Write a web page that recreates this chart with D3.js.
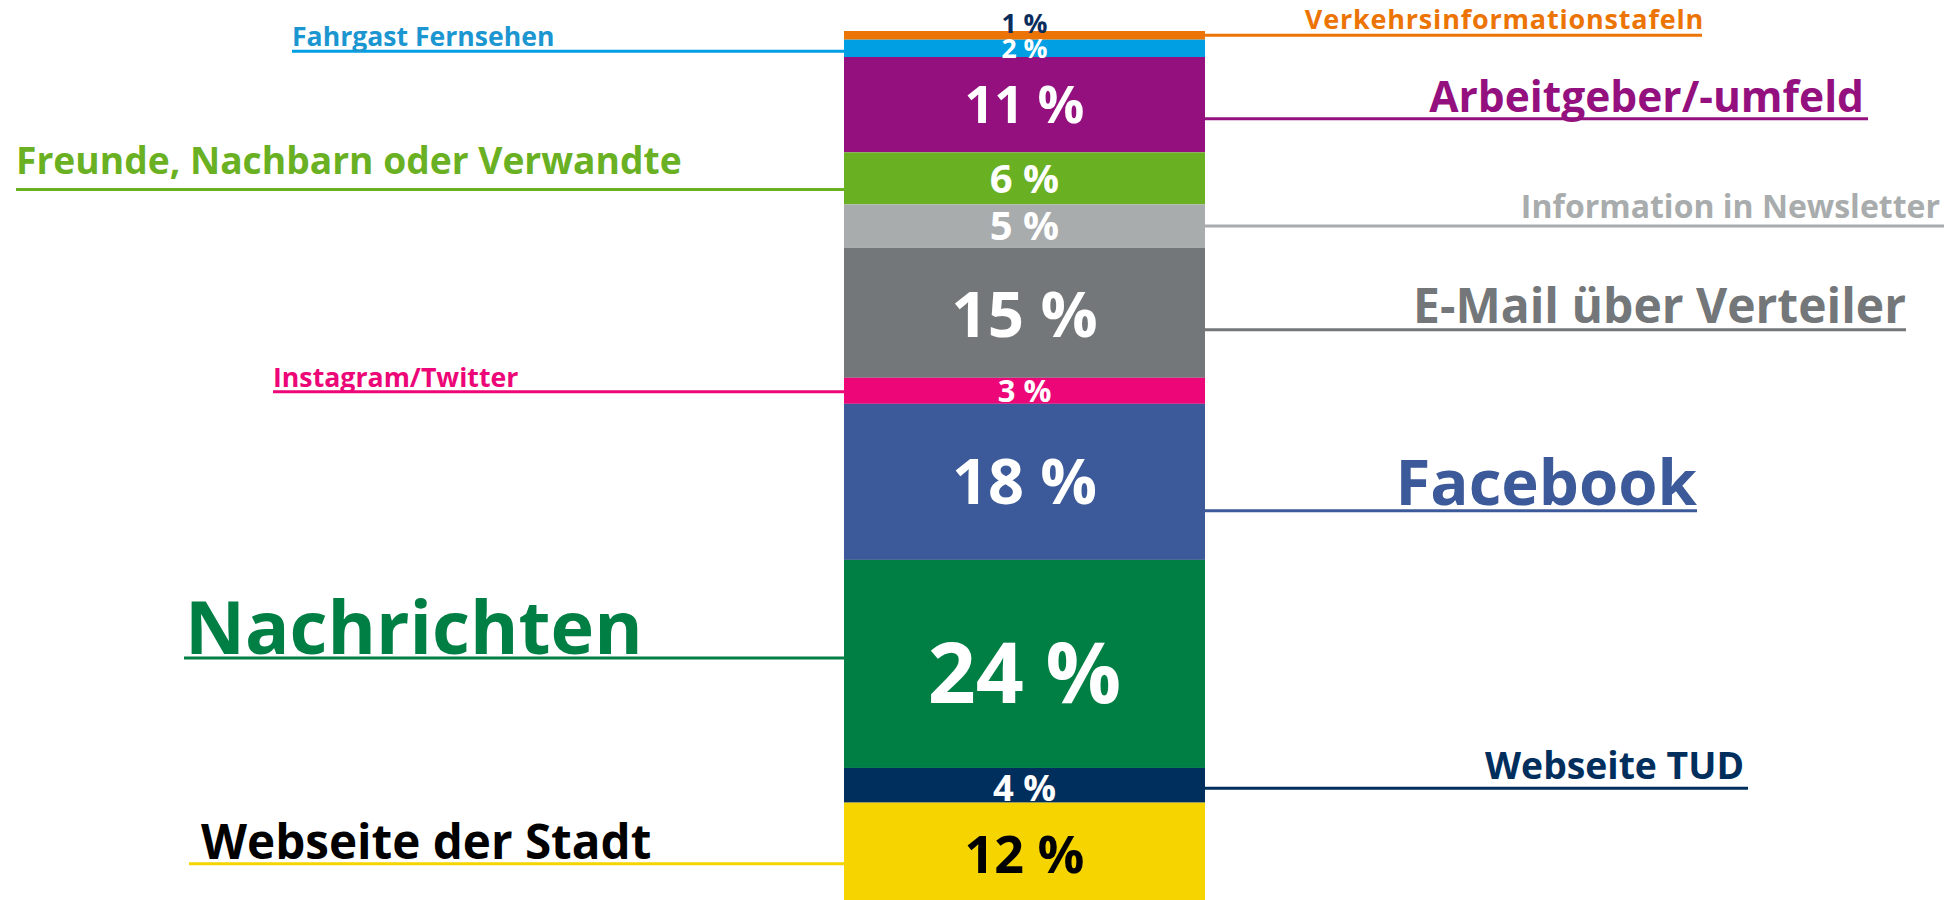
<!DOCTYPE html>
<html>
<head>
<meta charset="utf-8">
<script src="https://cdn.jsdelivr.net/npm/d3@7"></script>
<style>
  html, body { margin: 0; padding: 0; background: #fff; }
  svg { display: block; }
  text { font-family: "Open Sans", "Noto Sans", sans-serif; font-weight: 700; }
</style>
</head>
<body>
<script>
// channels, top of the bar to bottom
const categories = [
  "Verkehrsinformationstafeln", "Fahrgast Fernsehen", "Arbeitgeber/-umfeld",
  "Freunde, Nachbarn oder Verwandte", "Information in Newsletter", "E-Mail über Verteiler",
  "Instagram/Twitter", "Facebook", "Nachrichten", "Webseite TUD", "Webseite der Stadt"
];
const shares = [1, 2, 11, 6, 5, 15, 3, 18, 24, 4, 12];

// colours
const fills = ["#ec7404", "#009fe3", "#93107e", "#6ab023", "#a9acad", "#737779",
  "#ec0677", "#3c5a99", "#007f45", "#002e5d", "#f5d400"];
const nameColors = ["#ec7404", "#1b96d0", "#93107e", "#6ab023", "#a9acad", "#737779",
  "#ec0677", "#3c5a99", "#007f45", "#002e5d", "#000000"];
const valueColors = ["#0b2d5c", "#fff", "#fff", "#fff", "#fff", "#fff",
  "#fff", "#fff", "#fff", "#fff", "#000"];

// annotation layout (leader lines + names)
const sides      = ["R", "L", "R", "L", "R", "R", "L", "R", "L", "R", "L"];
const outerX     = [1702, 292, 1868, 16, 1944, 1906, 273, 1697, 184, 1748, 189];
const nameInset  = [2, 0, -4, 0, -4, 0, 0, 0, 1, -4, 12];
const nameSizes  = [27, 26.6, 42.5, 37.2, 32, 48, 26.7, 63.5, 73.8, 37.3, 47.6];
const nameSpacing = [0.8, 0, 0, 0, 0, 0, 0, 0, 0, 0, 0];
const lineDy     = [0, 3, 14, 11, 0, 17, 1, 29, -6, 3, 9];
const nameGap    = [6, 5, 7, 15, 8, 7, 5, 6, 4, 9, 5];
const valueSizes = [26.6, 26.6, 52, 40, 40, 63.5, 31, 63, 84, 36.4, 52];
const valueDy    = [-12, 0, 0, 0, 0, 2, 0, 0, 9, 3, 0];

const width = 1952, height = 900;
const CAP = 0.714; // Open Sans cap height

let svg = d3.select("body")
  .append("svg")
  .attr("width", width)
  .attr("height", height);

let x = d3.scaleBand()
  .domain(["Kanal"])
  .range([844, 1205])
  .padding(0);

let total = d3.sum(shares);
let y = d3.scaleLinear()
  .domain([0, total])
  .range([31, 31 + total * 8.67]);

let cum = d3.cumsum(shares);
let data = categories.map((c, i) => ({
  name: c,
  value: shares[i],
  y0: cum[i] - shares[i],
  y1: cum[i],
  i: i
}));

let bx0 = x("Kanal"), bx1 = x("Kanal") + x.bandwidth();

// stacked segments
svg.append("g")
  .selectAll("rect")
  .data(data)
  .enter()
  .append("rect")
  .attr("x", bx0)
  .attr("y", d => y(d.y0))
  .attr("width", x.bandwidth())
  .attr("height", d => y(d.y1) - y(d.y0))
  .attr("fill", d => fills[d.i]);

const mid = d => (y(d.y0) + y(d.y1)) / 2;

// leader lines
svg.append("g")
  .selectAll("line")
  .data(data)
  .enter()
  .append("line")
  .attr("x1", d => sides[d.i] === "R" ? bx1 : outerX[d.i])
  .attr("x2", d => sides[d.i] === "R" ? outerX[d.i] : bx0)
  .attr("y1", d => mid(d) + lineDy[d.i])
  .attr("y2", d => mid(d) + lineDy[d.i])
  .attr("stroke", d => fills[d.i])
  .attr("stroke-width", 3);

// channel names
svg.append("g")
  .selectAll("text")
  .data(data)
  .enter()
  .append("text")
  .attr("x", d => outerX[d.i] + nameInset[d.i])
  .attr("y", d => mid(d) + lineDy[d.i] - nameGap[d.i])
  .attr("text-anchor", d => sides[d.i] === "R" ? "end" : "start")
  .attr("font-size", d => nameSizes[d.i])
  .attr("letter-spacing", d => nameSpacing[d.i])
  .attr("fill", d => nameColors[d.i])
  .text(d => d.name);

// percentage values inside the bar
svg.append("g")
  .selectAll("text")
  .data(data)
  .enter()
  .append("text")
  .attr("x", (bx0 + bx1) / 2)
  .attr("y", d => mid(d) + valueDy[d.i] + valueSizes[d.i] * CAP / 2)
  .attr("text-anchor", "middle")
  .attr("font-size", d => valueSizes[d.i])
  .attr("fill", d => valueColors[d.i])
  .text(d => d.value + " %");
</script>
</body>
</html>
